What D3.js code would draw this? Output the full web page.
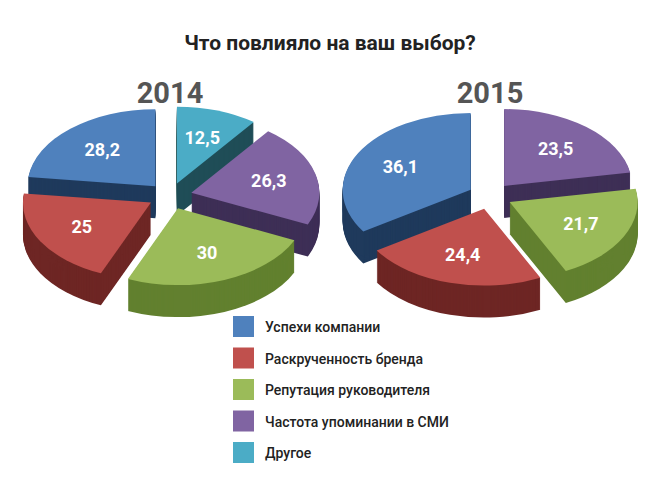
<!DOCTYPE html>
<html><head><meta charset="utf-8">
<script src="https://cdn.jsdelivr.net/npm/d3@7"></script>
<style>body{margin:0;background:#fff}</style></head>
<body><div class="chart"></div>
<script>
var svgWidth = 660, svgHeight = 495;

var categories = ["Успехи компании", "Раскрученность бренда", "Репутация руководителя", "Частота упоминании в СМИ", "Другое"];
var topColors = ["#4f81bd", "#c0504d", "#9bbb59", "#8064a2", "#4bacc6"];
var sideColors = ["#1f3a5c", "#6e2624", "#62802f", "#3e2f56", "#1f4d57"];

// clockwise from 12 o'clock: category index + value
var order2014 = [4, 3, 2, 1, 0];
var values2014 = [12.5, 26.3, 30, 25, 28.2];
var labels2014 = ["12,5", "26,3", "30", "25", "28,2"];
var order2015 = [3, 2, 1, 0];
var values2015 = [23.5, 21.7, 24.4, 36.1];
var labels2015 = ["23,5", "21,7", "24,4", "36,1"];

var svg = d3.select(".chart").append("svg")
    .attr("width", svgWidth).attr("height", svgHeight);

svg.append("text").attr("x", 330).attr("y", 50).attr("text-anchor", "middle")
    .style("font-family", "Roboto, sans-serif").style("font-weight", "bold")
    .style("font-size", "21px").attr("fill", "#222").text("Что повлияло на ваш выбор?");

var squash = 0.6, depth = 32, rad = 128, explode = 22;

function drawPie(cx, cy, year, order, values, labels) {
    svg.append("text").attr("x", cx).attr("y", 103).attr("text-anchor", "middle")
        .style("font-family", "Roboto, sans-serif").style("font-weight", "bold")
        .style("font-size", "29px").attr("fill", "#555").text(year);

    var pie = d3.pie().sort(null).value(d => d.v);
    var arcs = pie(values.map((v, i) => ({v: v, c: order[i], l: labels[i]})));
    var arc = d3.arc().innerRadius(0).outerRadius(rad);
    arcs.forEach(a => { a.mid = (a.startAngle + a.endAngle) / 2; });
    arcs.sort((a, b) => -Math.cos(a.mid) + Math.cos(b.mid));

    var g = svg.append("g").attr("transform", `translate(${cx},${cy}) scale(1,${squash})`);
    arcs.forEach(function (a) {
        var dx = explode * Math.sin(a.mid), dy = -explode * Math.cos(a.mid);
        var sg = g.append("g").attr("transform", `translate(${dx},${dy})`);
        for (var k = depth; k > 0; k--) {
            sg.append("path").attr("d", arc(a))
                .attr("transform", `translate(0,${k / squash})`)
                .attr("fill", sideColors[a.data.c]);
        }
        sg.append("path").attr("d", arc(a)).attr("fill", topColors[a.data.c]);
        var c = d3.arc().innerRadius(rad * 0.5).outerRadius(rad * 0.75).centroid(a);
        svg.append("text")
            .attr("x", cx + c[0] + dx).attr("y", cy + (c[1] + dy) * squash + 6)
            .attr("text-anchor", "middle").attr("fill", "#fff")
            .style("font-family", "'Liberation Sans Narrow', Roboto, sans-serif")
            .style("font-weight", "bold").style("font-size", "18px")
            .text(a.data.l);
    });
}

drawPie(170, 196, "2014", order2014, values2014, labels2014);
drawPie(490, 196, "2015", order2015, values2015, labels2015);

var legend = svg.append("g").attr("transform", "translate(233,316)");
categories.forEach(function (c, i) {
    legend.append("rect").attr("x", 0).attr("y", i * 31.5).attr("width", 21).attr("height", 21)
        .attr("fill", topColors[i]);
    legend.append("text").attr("x", 32).attr("y", i * 31.5 + 16)
        .style("font-family", "Roboto, sans-serif").style("font-weight", "500")
        .style("font-size", "14px").attr("fill", "#222").text(c);
});
</script></body></html>
